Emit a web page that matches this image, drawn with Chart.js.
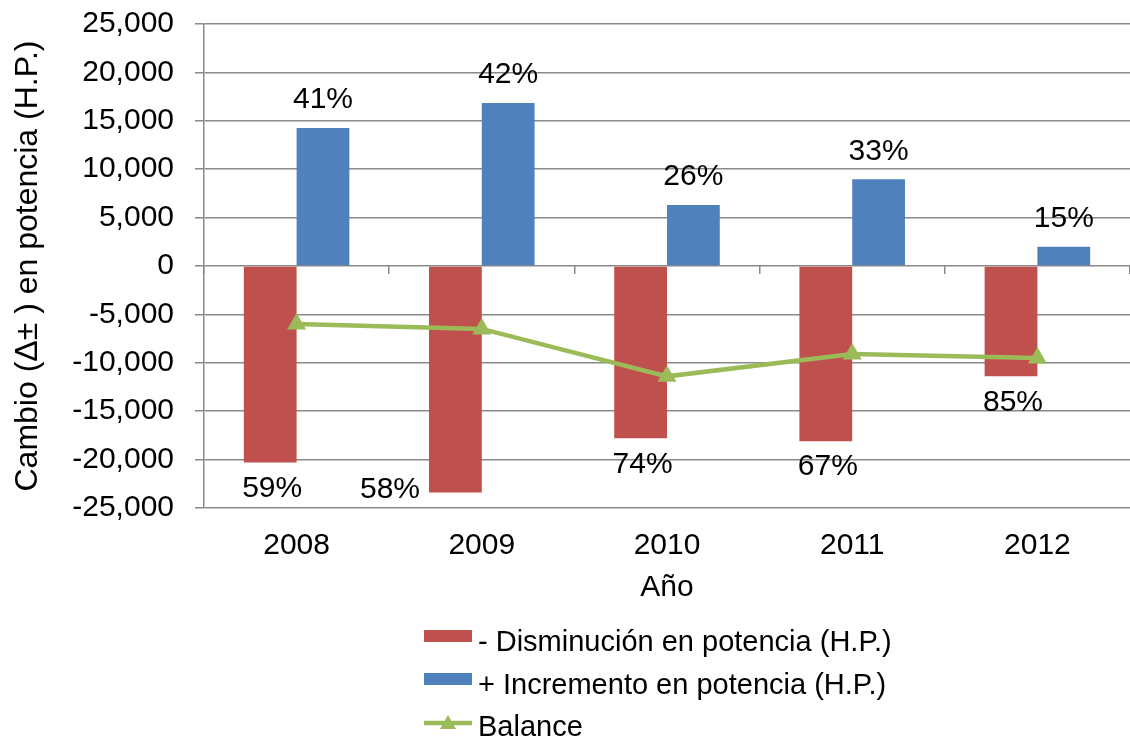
<!DOCTYPE html>
<html>
<head>
<meta charset="utf-8">
<script src="https://cdn.jsdelivr.net/npm/chart.js@4"></script>
<style>
  html, body { margin: 0; padding: 0; background: #fff; }
  #wrap { width: 1130px; height: 739px; }
</style>
</head>
<body>
<div id="wrap"><canvas id="grafico"></canvas></div>
<script>
// datos
const anios = ["2008", "2009", "2010", "2011", "2012"];
const disminucion = [-20300, -23400, -17800, -18100, -11400];
const incremento = [14250, 16850, 6300, 8950, 2000];
const balance = [-6000, -6500, -11400, -9100, -9500];
const pctDisminucion = ["59%", "58%", "74%", "67%", "85%"];
const pctIncremento = ["41%", "42%", "26%", "33%", "15%"];

const gris = "#898989";
const fuente = "'Liberation Sans', Arial, sans-serif";

Chart.defaults.font.family = fuente;
Chart.defaults.font.size = 30;
Chart.defaults.color = "#000";

// porcentajes encima / debajo de cada barra
const etiquetas = {
  id: "etiquetas",
  afterDatasetsDraw(chart) {
    const ctx = chart.ctx;
    const area = chart.chartArea;
    ctx.save();
    ctx.font = "30px " + fuente;
    ctx.fillStyle = "#000";
    ctx.textBaseline = "middle";
    chart.getDatasetMeta(1).data.forEach((bar, i) => {
      ctx.textAlign = "center";
      ctx.fillText(pctIncremento[i], bar.x, bar.y - 28);
    });
    chart.getDatasetMeta(0).data.forEach((bar, i) => {
      const y = bar.y + 26;
      if (y + 15 > area.bottom) {
        // no cabe debajo: a la izquierda de la barra
        ctx.textAlign = "right";
        ctx.fillText(pctDisminucion[i], bar.x - bar.width / 2 - 9, bar.y - 3);
      } else {
        ctx.textAlign = "center";
        ctx.fillText(pctDisminucion[i], bar.x + 2, y);
      }
    });
    ctx.restore();
  }
};

// leyenda vertical debajo del eje
const leyenda = {
  id: "leyenda",
  afterDraw(chart) {
    const ctx = chart.ctx;
    const x0 = 424;
    const filas = [643, 686, 728];
    ctx.save();
    ctx.font = "29px " + fuente;
    ctx.textBaseline = "middle";
    ctx.textAlign = "left";
    chart.data.datasets.forEach((ds, i) => {
      const y = filas[i];
      if (ds.type === "line") {
        ctx.strokeStyle = ds.borderColor;
        ctx.lineWidth = 4.5;
        ctx.beginPath();
        ctx.moveTo(x0, y - 5);
        ctx.lineTo(x0 + 48, y - 5);
        ctx.stroke();
        ctx.fillStyle = ds.pointBackgroundColor;
        ctx.beginPath();
        ctx.moveTo(x0 + 24, y - 13);
        ctx.lineTo(x0 + 32, y + 1);
        ctx.lineTo(x0 + 16, y + 1);
        ctx.closePath();
        ctx.fill();
      } else {
        ctx.fillStyle = ds.backgroundColor;
        ctx.fillRect(x0, y - 13, 48, 12);
      }
      ctx.fillStyle = "#000";
      ctx.fillText(ds.label, x0 + 54, y);
    });
    ctx.restore();
  }
};

new Chart("grafico", {
  type: "bar",
  data: {
    labels: anios,
    datasets: [
      {
        label: "- Disminución en potencia (H.P.)",
        data: disminucion,
        backgroundColor: "#C0504D",
        order: 1
      },
      {
        label: "+ Incremento en potencia (H.P.)",
        data: incremento,
        backgroundColor: "#4F81BD",
        order: 1
      },
      {
        type: "line",
        label: "Balance",
        data: balance,
        borderColor: "#9BBB59",
        borderWidth: 4.5,
        pointStyle: "triangle",
        pointRadius: 11,
        pointBackgroundColor: "#9BBB59",
        pointBorderWidth: 0,
        tension: 0,
        order: 0
      }
    ]
  },
  options: {
    responsive: true,
    maintainAspectRatio: false,
    animation: false,
    layout: {
      autoPadding: false,
      padding: { top: 24, right: 0, bottom: 131, left: 0 }
    },
    datasets: {
      bar: { categoryPercentage: 0.57, barPercentage: 1 }
    },
    plugins: {
      legend: { display: false },
      tooltip: { enabled: false }
    },
    scales: {
      x: {
        grid: { display: false, drawTicks: false },
        border: { display: false },
        ticks: { padding: 20 },
        title: { display: true, text: "Año", padding: { top: 0, bottom: 2 } },
        afterFit(s) {
          s.height = 100;
          s.paddingLeft = 0;
          s.paddingRight = 0;
        }
      },
      x0: {
        type: "category",
        position: { y: 0 },
        offset: true,
        grid: { offset: true, drawOnChartArea: false, tickLength: 8, color: gris, lineWidth: 1.5 },
        border: { display: false },
        ticks: { display: false },
        afterFit(s) {
          s.paddingLeft = 0;
          s.paddingRight = 0;
        }
      },
      y: {
        min: -25000,
        max: 25000,
        ticks: { stepSize: 5000, padding: 21 },
        grid: { color: gris, lineWidth: 1.5, tickLength: 9 },
        border: { color: gris, width: 1.5 },
        title: {
          display: true,
          text: "Cambio (Δ± ) en potencia (H.P.)",
          font: { size: 32 },
          padding: { top: 9, bottom: 0 }
        },
        afterFit(s) {
          s.width = 204;
          s.paddingTop = 0;
          s.paddingBottom = 0;
        }
      }
    }
  },
  plugins: [etiquetas, leyenda]
});
</script>
</body>
</html>
